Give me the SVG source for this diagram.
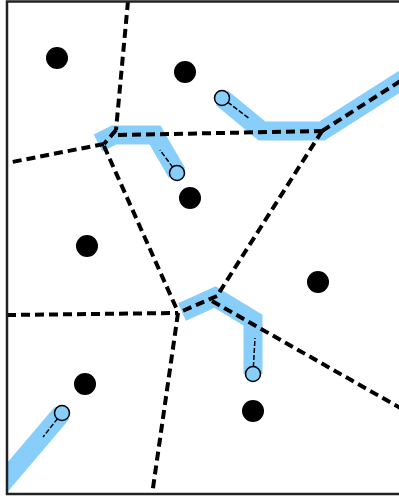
<svg xmlns="http://www.w3.org/2000/svg" width="399" height="497" viewBox="0 0 399 497">
<style>
.band{fill:none;stroke:#87cefa;stroke-width:19;stroke-linejoin:miter;stroke-linecap:butt}
.edge{fill:none;stroke:#000;stroke-width:4;stroke-dasharray:9 5}
.site{fill:#000}
.probe{fill:#87cefa;stroke:#000;stroke-width:1.5}
.vec{fill:none;stroke:#000;stroke-width:1.5;stroke-dasharray:5 2}
</style>
<defs>
<clipPath id="frame"><rect x="7" y="1.5" width="400" height="492.5"/></clipPath>
</defs>
<rect x="0" y="0" width="399" height="497" fill="#fff"/>
<g id="bands" clip-path="url(#frame)">
<polyline class="band" points="222,98 262,131 322,131 410,75"/>
<polyline class="band" points="98,143 114,135 155,135 177,173"/>
<polyline class="band" points="182,312 215,297 253,320 253,374"/>
<polyline class="band" points="62,413 0,486"/>
</g>
<g id="connectors" clip-path="url(#frame)">
<line class="edge" x1="128" y1="1" x2="116" y2="130"/>
<line class="edge" x1="116" y1="130" x2="104" y2="144"/>
<line class="edge" x1="118" y1="135" x2="322" y2="131"/>
<line class="edge" x1="104" y1="144" x2="7" y2="163"/>
<line class="edge" x1="104" y1="146" x2="178" y2="312"/>
<line class="edge" x1="322" y1="131" x2="402" y2="80"/>
<line class="edge" x1="322" y1="131" x2="217" y2="296"/>
<line class="edge" x1="217" y1="296" x2="178" y2="313"/>
<line class="edge" x1="7" y1="315" x2="178" y2="313"/>
<line class="edge" x1="178" y1="313" x2="152" y2="495"/>
<line class="edge" x1="212" y1="301" x2="402" y2="409"/>
<line class="vec" x1="222" y1="98" x2="250" y2="119"/>
<line class="vec" x1="177" y1="173" x2="160" y2="150"/>
<line class="vec" x1="253" y1="374" x2="255" y2="338"/>
<line class="vec" x1="62" y1="413" x2="43" y2="437"/>
</g>
<g id="site1"><circle class="site" cx="57" cy="58" r="11"/></g>
<g id="site2"><circle class="site" cx="185" cy="72" r="11"/></g>
<g id="site3"><circle class="site" cx="190" cy="198" r="11"/></g>
<g id="site4"><circle class="site" cx="87" cy="246" r="11"/></g>
<g id="site5"><circle class="site" cx="318" cy="282" r="11"/></g>
<g id="site6"><circle class="site" cx="85" cy="384" r="11"/></g>
<g id="site7"><circle class="site" cx="253" cy="411" r="11"/></g>
<g id="probe1"><circle class="probe" cx="222" cy="98" r="7.5"/></g>
<g id="probe2"><circle class="probe" cx="177" cy="173" r="7.5"/></g>
<g id="probe3"><circle class="probe" cx="253" cy="374" r="7.5"/></g>
<g id="probe4"><circle class="probe" cx="62" cy="413" r="7.5"/></g>
<rect x="7" y="1.5" width="400" height="492.5" fill="none" stroke="#222" stroke-width="2.5"/>
</svg>
